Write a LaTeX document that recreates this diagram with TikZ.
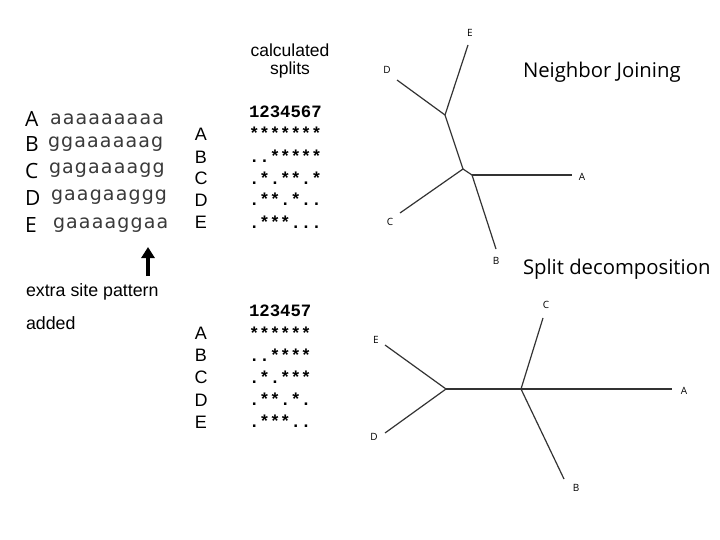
\documentclass[tikz,border=0pt]{standalone}
\usepackage{fontspec}
\setmainfont{Liberation Sans}
\newfontfamily\myr{Open Sans}
\newfontfamily\seqf[LetterSpace=6]{DejaVu Sans}
\newfontfamily\monob{Liberation Mono}
\usetikzlibrary{arrows.meta}
\definecolor{seqgray}{HTML}{3A3A3A}
\definecolor{treegray}{HTML}{333333}
\begin{document}
\begin{tikzpicture}[x=1pt,y=-1pt,
  every node/.style={inner sep=0pt,outer sep=0pt},
  biglet/.style={anchor=west,font=\myr\fontsize{21}{21}\selectfont},
  seq/.style={anchor=west,text=seqgray,font=\seqf\fontsize{19}{19}\selectfont},
  midlet/.style={anchor=center,font=\fontsize{18}{18}\selectfont},
  split/.style={anchor=west,font=\monob\bfseries\fontsize{17.3}{17}\selectfont},
  plain/.style={anchor=west,font=\fontsize{17.8}{18}\selectfont},
  title/.style={anchor=west,font=\myr\fontsize{20.3}{21}\selectfont},
  leaf/.style={anchor=center,font=\myr\fontsize{10}{10}\selectfont},
  branch/.style={draw=treegray,line width=1.2pt}]
\useasboundingbox[fill=white] (0,0) rectangle (720,540);

% header
\node[align=center,font=\fontsize{17.5}{18.5}\selectfont] (hdr) at (290,61) {calculated\\ splits};

% left alignment
\node[biglet] (la) at (25,119) {A};
\node[biglet] (lb) at (25,144) {B};
\node[biglet] (lc) at (25,171) {C};
\node[biglet] (ld) at (25,198) {D};
\node[biglet] (le) at (25,225) {E};
\node[seq] (sa) at (50,119) {aaaaaaaaa};
\node[seq] (sb) at (48,144) {ggaaaaaag};
\node[seq] (sc) at (49,170) {gagaaaagg};
\node[seq] (sd) at (51,197) {gaagaaggg};
\node[seq] (se) at (53,225) {gaaaaggaa};

% arrow
\coordinate (arrbot) at (148,276);
\coordinate (arrtop) at (148,247);
\draw[line width=3.8pt,-{Triangle[width=13pt,length=11pt]}] (arrbot) -- (arrtop);
\node[plain] (extra) at (26,292) {extra site pattern};
\node[plain] (added) at (26,323) {added};

% upper splits
\node[split] (u0) at (249,112) {1234567};
\node[midlet] (ma1) at (201,134) {A};
\node[midlet] (mb1) at (201,157) {B};
\node[midlet] (mc1) at (201,178) {C};
\node[midlet] (md1) at (201,200) {D};
\node[midlet] (me1) at (201,222) {E};
\node[split] (u1) at (249,133) {*******};
\node[split] (u2) at (249,156) {..*****};
\node[split] (u3) at (249,178) {.*.**.*};
\node[split] (u4) at (249,199) {.**.*..};
\node[split] (u5) at (249,222) {.***...};

% lower splits
\node[split] (w0) at (249,311) {123457};
\node[midlet] (ma2) at (201,333) {A};
\node[midlet] (mb2) at (201,355) {B};
\node[midlet] (mc2) at (201,377) {C};
\node[midlet] (md2) at (201,400) {D};
\node[midlet] (me2) at (201,422) {E};
\node[split] (w1) at (249,333) {******};
\node[split] (w2) at (249,355) {..****};
\node[split] (w3) at (249,377) {.*.***};
\node[split] (w4) at (249,399) {.**.*.};
\node[split] (w5) at (249,421) {.***..};

% titles
\node[title] (tnj) at (523,72) {Neighbor Joining};
\node[title] (tsd) at (523,269) {Split decomposition};

% NJ tree
\coordinate (njE) at (468,45);
\coordinate (njD) at (397,80);
\coordinate (nj1) at (445,115);
\coordinate (nj2) at (463,169);
\coordinate (nj3) at (472,175);
\coordinate (njA) at (572,175);
\coordinate (njC) at (400,213);
\coordinate (njB) at (496,249);
\draw[branch] (njE) -- (nj1);
\draw[branch] (njD) -- (nj1);
\draw[branch] (nj1) -- (nj2);
\draw[branch] (nj2) -- (njC);
\draw[branch] (nj2) -- (nj3);
\draw[branch] (nj3) -- (njA);
\draw[branch] (nj3) -- (njB);
\node[leaf] (lnjE) at (470,33) {E};
\node[leaf] (lnjD) at (387,70) {D};
\node[leaf] (lnjA) at (582,177) {A};
\node[leaf] (lnjC) at (390,222) {C};
\node[leaf] (lnjB) at (496,261) {B};

% SD tree
\coordinate (sdC) at (543,318);
\coordinate (sdR) at (521,389);
\coordinate (sdA) at (672,389);
\coordinate (sdB) at (564,479);
\coordinate (sdL) at (446,389);
\coordinate (sdE) at (385,345);
\coordinate (sdD) at (385,433);
\draw[branch] (sdC) -- (sdR);
\draw[branch] (sdL) -- (sdA);
\draw[branch] (sdR) -- (sdB);
\draw[branch] (sdE) -- (sdL);
\draw[branch] (sdD) -- (sdL);
\node[leaf] (lsdC) at (546,305) {C};
\node[leaf] (lsdA) at (684,391) {A};
\node[leaf] (lsdB) at (576,488) {B};
\node[leaf] (lsdE) at (376,340) {E};
\node[leaf] (lsdD) at (374,437) {D};
\end{tikzpicture}
\end{document}
